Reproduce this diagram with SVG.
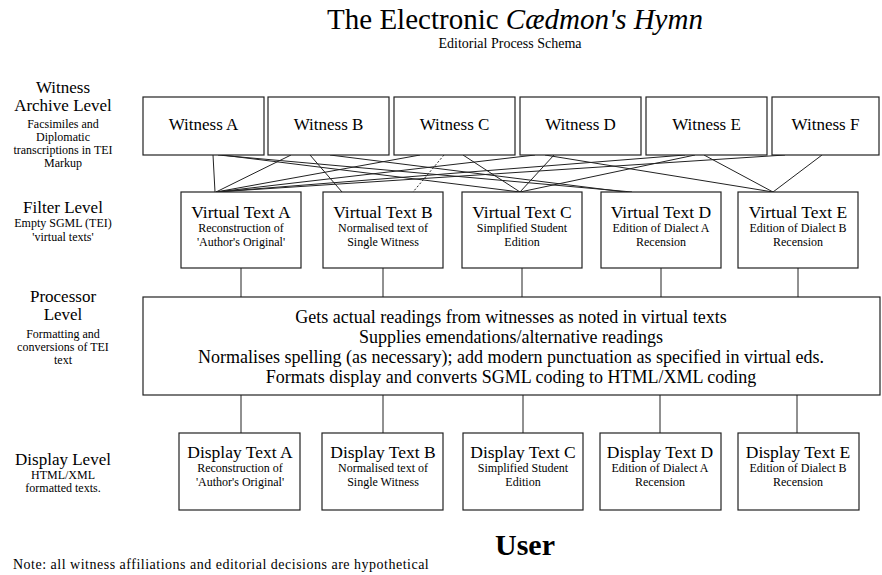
<svg xmlns="http://www.w3.org/2000/svg" width="882" height="575" viewBox="0 0 882 575" font-family="Liberation Serif, serif">
<style>
text{font-family:'Liberation Serif','Times New Roman',serif;fill:#000;text-anchor:middle}
.box{fill:#fff;stroke:#222;stroke-width:1.2}
.ln{stroke:#222;stroke-width:1;fill:none}
.dash{stroke:#222;stroke-width:1;stroke-dasharray:2 2;fill:none}
.t1{font-size:17px}
.t2{font-size:12px}
.wt{font-size:17px}
.vt{font-size:17.5px}
.vs{font-size:12px}
.pt{font-size:18px}
.title{font-size:29px}
.sub{font-size:14px}
.user{font-size:30px;font-weight:bold}
.note{font-size:14px;letter-spacing:0.5px;text-anchor:start}
</style>
<rect width="882" height="575" fill="#fff"/>
<g id="title">
<text class="title" x="515" y="29">The Electronic <tspan font-style="italic">Cædmon's Hymn</tspan></text>
<text class="sub" x="510" y="48">Editorial Process Schema</text>
</g>
<g id="labels">
<text class="t1" x="63" y="93">Witness</text>
<text class="t1" x="63" y="111">Archive Level</text>
<text class="t2" x="63" y="128">Facsimiles and</text>
<text class="t2" x="63" y="141">Diplomatic</text>
<text class="t2" x="63" y="154">transcriptions in TEI</text>
<text class="t2" x="63" y="167">Markup</text>
<text class="t1" x="63" y="213">Filter Level</text>
<text class="t2" x="63" y="227">Empty SGML (TEI)</text>
<text class="t2" x="63" y="241">'virtual  texts'</text>
<text class="t1" x="63" y="302">Processor</text>
<text class="t1" x="63" y="320">Level</text>
<text class="t2" x="63" y="338">Formatting and</text>
<text class="t2" x="63" y="351">conversions of TEI</text>
<text class="t2" x="63" y="364">text</text>
<text class="t1" x="63" y="465">Display Level</text>
<text class="t2" x="63" y="479">HTML/XML</text>
<text class="t2" x="63" y="492">formatted texts.</text>
</g>
<g id="connectors">
<line class="ln" x1="213" y1="155" x2="215" y2="192"/>
<line class="ln" x1="291" y1="155" x2="216" y2="192"/>
<line class="ln" x1="420" y1="155" x2="216" y2="192"/>
<line class="ln" x1="535" y1="155" x2="216" y2="192"/>
<line class="ln" x1="685" y1="155" x2="216" y2="192"/>
<line class="ln" x1="785" y1="155" x2="216" y2="192"/>
<line class="ln" x1="310" y1="155" x2="342" y2="192"/>
<line class="dash" x1="444" y1="155" x2="413" y2="192"/>
<line class="ln" x1="463" y1="155" x2="520" y2="192"/>
<line class="ln" x1="554" y1="155" x2="520" y2="192"/>
<line class="ln" x1="222" y1="155" x2="520" y2="192"/>
<line class="ln" x1="695" y1="155" x2="520" y2="192"/>
<line class="ln" x1="218" y1="155" x2="632" y2="192"/>
<line class="ln" x1="330" y1="155" x2="625" y2="192"/>
<line class="ln" x1="704" y1="155" x2="773" y2="192"/>
<line class="ln" x1="822" y1="155" x2="773" y2="192"/>
<line class="ln" x1="545" y1="155" x2="773" y2="192"/>
<line class="ln" x1="241" y1="268" x2="241" y2="297"/>
<line class="ln" x1="383" y1="268" x2="383" y2="297"/>
<line class="ln" x1="522" y1="268" x2="522" y2="297"/>
<line class="ln" x1="661" y1="268" x2="661" y2="297"/>
<line class="ln" x1="798" y1="268" x2="798" y2="297"/>
<line class="ln" x1="241" y1="395" x2="241" y2="433"/>
<line class="ln" x1="383" y1="395" x2="383" y2="433"/>
<line class="ln" x1="523" y1="395" x2="523" y2="433"/>
<line class="ln" x1="660" y1="395" x2="660" y2="433"/>
<line class="ln" x1="797" y1="395" x2="797" y2="433"/>
</g>
<g id="witness-a"><rect class="box" x="143" y="97" width="121" height="58"/><text class="wt" x="203.5" y="130">Witness A</text></g>
<g id="witness-b"><rect class="box" x="268" y="97" width="121" height="58"/><text class="wt" x="328.5" y="130">Witness B</text></g>
<g id="witness-c"><rect class="box" x="394" y="97" width="121" height="58"/><text class="wt" x="454.5" y="130">Witness C</text></g>
<g id="witness-d"><rect class="box" x="520" y="97" width="121" height="58"/><text class="wt" x="580.5" y="130">Witness D</text></g>
<g id="witness-e"><rect class="box" x="646" y="97" width="121" height="58"/><text class="wt" x="706.5" y="130">Witness E</text></g>
<g id="witness-f"><rect class="box" x="772" y="97" width="107" height="58"/><text class="wt" x="825.5" y="130">Witness F</text></g>
<g id="virtual-a"><rect class="box" x="181" y="192" width="120" height="76"/><text class="vt" x="241" y="218">Virtual Text A</text><text class="vs" x="241" y="232">Reconstruction of</text><text class="vs" x="241" y="246">'Author's Original'</text></g>
<g id="virtual-b"><rect class="box" x="323" y="192" width="120" height="76"/><text class="vt" x="383" y="218">Virtual Text B</text><text class="vs" x="383" y="232">Normalised text of</text><text class="vs" x="383" y="246">Single Witness</text></g>
<g id="virtual-c"><rect class="box" x="462" y="192" width="120" height="76"/><text class="vt" x="522" y="218">Virtual Text C</text><text class="vs" x="522" y="232">Simplified Student</text><text class="vs" x="522" y="246">Edition</text></g>
<g id="virtual-d"><rect class="box" x="601" y="192" width="120" height="76"/><text class="vt" x="661" y="218">Virtual Text D</text><text class="vs" x="661" y="232">Edition of Dialect A</text><text class="vs" x="661" y="246">Recension</text></g>
<g id="virtual-e"><rect class="box" x="738" y="192" width="120" height="76"/><text class="vt" x="798" y="218">Virtual Text E</text><text class="vs" x="798" y="232">Edition of Dialect B</text><text class="vs" x="798" y="246">Recension</text></g>
<g id="processor"><rect class="box" x="143" y="297" width="737" height="98"/>
<text class="pt" x="511" y="323">Gets actual readings from witnesses as noted in virtual texts</text>
<text class="pt" x="511" y="343">Supplies emendations/alternative readings</text>
<text class="pt" x="511" y="363">Normalises spelling (as necessary); add modern punctuation as specified in virtual eds.</text>
<text class="pt" x="511" y="383">Formats display and converts SGML coding to HTML/XML coding</text></g>
<g id="display-a"><rect class="box" x="179" y="433" width="121" height="77"/><text class="vt" x="240" y="458">Display Text A</text><text class="vs" x="240" y="472">Reconstruction of</text><text class="vs" x="240" y="486">'Author's Original'</text></g>
<g id="display-b"><rect class="box" x="322" y="433" width="121" height="77"/><text class="vt" x="383" y="458">Display Text B</text><text class="vs" x="383" y="472">Normalised text of</text><text class="vs" x="383" y="486">Single Witness</text></g>
<g id="display-c"><rect class="box" x="463" y="433" width="120" height="77"/><text class="vt" x="523" y="458">Display Text C</text><text class="vs" x="523" y="472">Simplified Student</text><text class="vs" x="523" y="486">Edition</text></g>
<g id="display-d"><rect class="box" x="600" y="433" width="121" height="77"/><text class="vt" x="660" y="458">Display Text D</text><text class="vs" x="660" y="472">Edition of Dialect A</text><text class="vs" x="660" y="486">Recension</text></g>
<g id="display-e"><rect class="box" x="738" y="433" width="121" height="77"/><text class="vt" x="798" y="458">Display Text E</text><text class="vs" x="798" y="472">Edition of Dialect B</text><text class="vs" x="798" y="486">Recension</text></g>
<g id="user"><text class="user" x="525" y="555">User</text></g>
<text class="note" x="13" y="569">Note: all witness affiliations and editorial decisions are hypothetical</text>
</svg>
